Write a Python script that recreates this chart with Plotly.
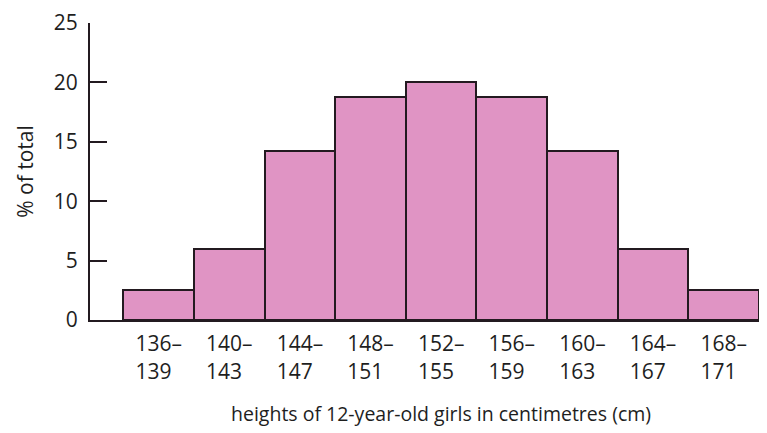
import plotly.graph_objects as go

# Height classes (cm) and share of girls in each class (%)
class_lower = [136, 140, 144, 148, 152, 156, 160, 164, 168]
class_upper = [139, 143, 147, 151, 155, 159, 163, 167, 171]
percent = [2.5, 6.0, 14.2, 18.8, 20.0, 18.8, 14.2, 6.0, 2.5]
y_ticks = [0, 5, 10, 15, 20, 25]

positions = list(range(len(percent)))
tick_text = [f"{lo}–<br>{hi}\u2002" for lo, hi in zip(class_lower, class_upper)]

FONT = "Open Sans, sans-serif"
INK = "#231a20"

fig = go.Figure(
    go.Bar(
        x=positions,
        y=percent,
        width=1,
        marker=dict(color="#e094c4", line=dict(color=INK, width=2)),
        hoverinfo="skip",
    )
)

fig.update_layout(
    width=767,
    height=433,
    margin=dict(l=90, r=8, t=19, b=113),
    paper_bgcolor="white",
    plot_bgcolor="white",
    showlegend=False,
    bargap=0,
    font=dict(family=FONT, size=21, color="#1e1e1e"),
)

fig.update_xaxes(
    range=[-0.972, 8.5],
    tickmode="array",
    tickvals=positions,
    ticktext=tick_text,
    ticks="",
    showgrid=False,
    zeroline=False,
    showline=True,
    linecolor=INK,
    linewidth=2,
    ticklabelstandoff=4,
    tickfont=dict(size=21),
)

# x-axis caption, set slightly right of the plot centre
fig.add_annotation(
    text="heights of 12-year-old girls in centimetres (cm)",
    xref="paper", yref="paper",
    x=0.5247, y=-0.316,
    xanchor="center", yanchor="middle",
    showarrow=False,
    font=dict(size=19.5),
)

fig.update_yaxes(
    range=[0, 25],
    tickmode="array",
    tickvals=y_ticks,
    ticks="inside",
    ticklen=17,
    tickwidth=2,
    tickcolor=INK,
    showgrid=False,
    zeroline=False,
    showline=True,
    linecolor=INK,
    linewidth=2,
    ticklabelstandoff=6,
    tickfont=dict(size=21),
    title=dict(text="% of total", font=dict(size=21), standoff=14),
)

fig.write_html("out.html")
